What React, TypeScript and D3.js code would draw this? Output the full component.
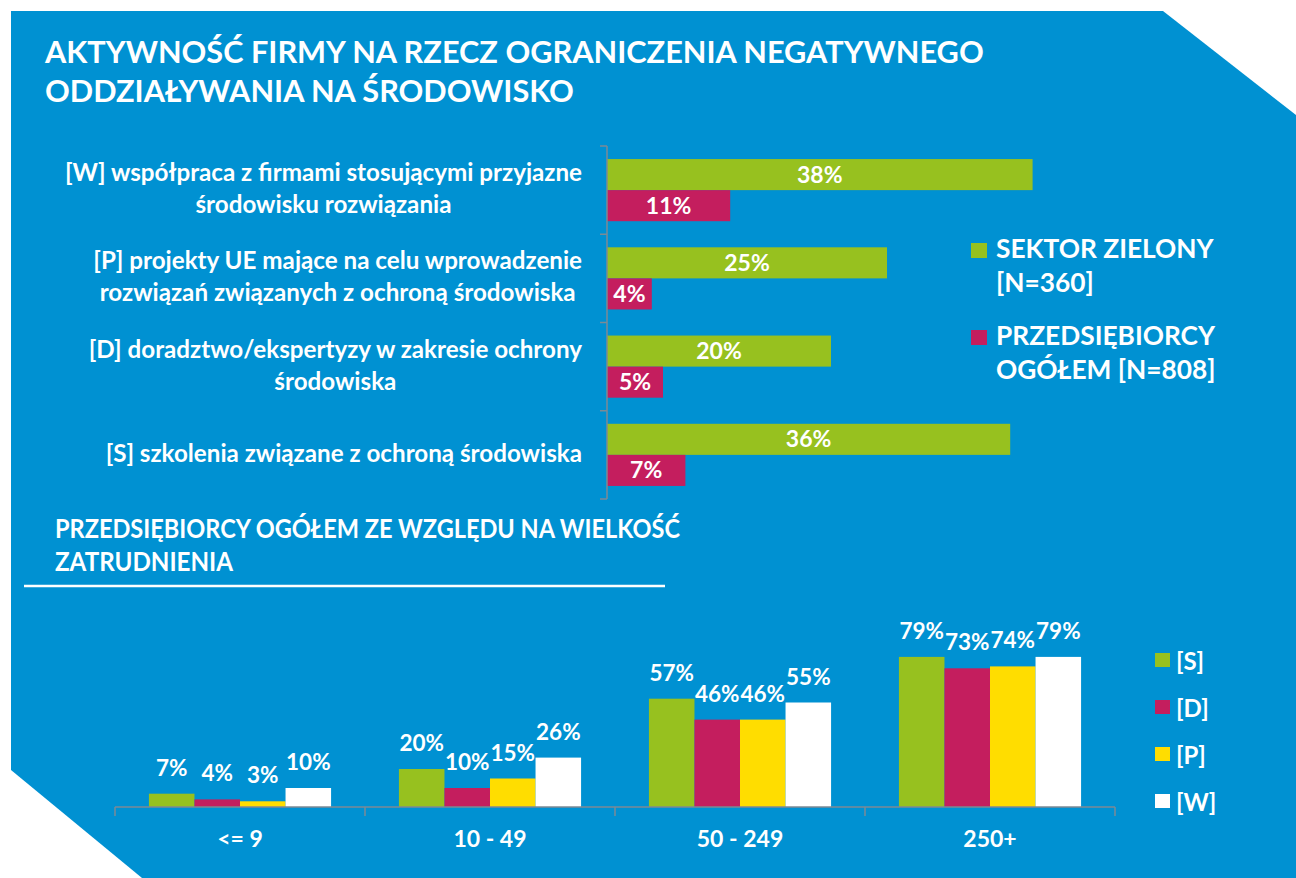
import React, { useRef, useEffect } from 'react';
import * as d3 from 'd3';

// top chart: activities, green sector vs all companies
const activityKeys = ['W', 'P', 'D', 'S'];
const activityLabels = [
  ['[W] współpraca z firmami stosującymi przyjazne', 'środowisku rozwiązania'],
  ['[P] projekty UE mające na celu wprowadzenie', 'rozwiązań związanych z ochroną środowiska'],
  ['[D] doradztwo/ekspertyzy w zakresie ochrony', 'środowiska'],
  ['[S] szkolenia związane z ochroną środowiska'],
];
const greenSector = [38, 25, 20, 36];
const allCompanies = [11, 4, 5, 7];
const topLegend = [
  ['SEKTOR ZIELONY', '[N=360]'],
  ['PRZEDSIĘBIORCY', 'OGÓŁEM [N=808]'],
];

// bottom chart: all companies by size of employment
const sizeClasses = ['<= 9', '10 - 49', '50 - 249', '250+'];
const seriesKeys = ['[S]', '[D]', '[P]', '[W]'];
const valuesS = [7, 20, 57, 79];
const valuesD = [4, 10, 46, 73];
const valuesP = [3, 15, 46, 74];
const valuesW = [10, 26, 55, 79];

const BLUE = '#0091d2';
const GREEN = '#97c11f';
const RED = '#c41e5e';
const YELLOW = '#ffdd00';
const AXIS = '#7d8a94';
const FONT = 'Lato, "Open Sans", sans-serif';

const App = () => {
  const ref = useRef<SVGSVGElement>(null);

  useEffect(() => {
    const svg = d3.select(ref.current);
    svg.selectAll('*').remove();

    // background shape with cut corners
    svg.append('polygon')
      .attr('points', '11,11 1163,11 1296,115 1296,878 142,878 11,770')
      .attr('fill', BLUE);

    // title
    const title = svg.append('g').attr('font-family', FONT).attr('font-weight', 700).attr('fill', '#fff');
    title.append('text').attr('x', 45).attr('y', 63).attr('font-size', 30.7)
      .text('AKTYWNOŚĆ FIRMY NA RZECZ OGRANICZENIA NEGATYWNEGO');
    title.append('text').attr('x', 45).attr('y', 102).attr('font-size', 30.7)
      .text('ODDZIAŁYWANIA NA ŚRODOWISKO');

    // ---------- top horizontal bars ----------
    const x = d3.scaleLinear().domain([0, 40]).range([607, 1055]);
    const y0 = d3.scaleBand().domain(activityKeys).range([146, 499]);
    const y1 = d3.scaleBand().domain(['green', 'red']).range([0, y0.bandwidth()]).paddingOuter(0.42);

    const top = svg.append('g');
    activityKeys.forEach((k, i) => {
      const g = top.append('g').attr('transform', `translate(0,${y0(k)})`);
      [['green', greenSector[i], GREEN], ['red', allCompanies[i], RED]].forEach(([s, v, c]) => {
        g.append('rect')
          .attr('x', x(0))
          .attr('y', y1(s as string)!)
          .attr('width', x(v as number) - x(0))
          .attr('height', y1.bandwidth())
          .attr('fill', c as string);
        g.append('text')
          .attr('x', (x(0) + x(v as number)) / 2)
          .attr('y', y1(s as string)! + y1.bandwidth() / 2 + 8)
          .attr('text-anchor', 'middle')
          .attr('font-family', FONT).attr('font-weight', 700).attr('font-size', 23)
          .attr('fill', '#fff')
          .text(`${v}%`);
      });

      // category label: centred lines, block right aligned to the axis
      const lines = activityLabels[i];
      const lg = g.append('g').attr('font-family', FONT).attr('font-weight', 700).attr('font-size', 24.2).attr('fill', '#fff');
      const mid = y0.bandwidth() / 2;
      const texts = lines.map((t, j) => lg.append('text')
        .attr('y', mid + 7 + (j - (lines.length - 1) / 2) * 32)
        .attr('text-anchor', 'middle')
        .text(t));
      const maxW = d3.max(texts, t => (t.node() as SVGTextElement).getComputedTextLength()) || 0;
      texts.forEach(t => t.attr('x', 582 - maxW / 2));
    });

    // vertical axis with ticks between categories
    top.append('line')
      .attr('x1', 607).attr('x2', 607).attr('y1', 146).attr('y2', 499)
      .attr('stroke', AXIS).attr('stroke-width', 1.5);
    activityKeys.concat(['end']).forEach((k, i) => {
      const yy = i < activityKeys.length ? y0(k)! : y0.range()[1];
      top.append('line')
        .attr('x1', 600).attr('x2', 607).attr('y1', yy).attr('y2', yy)
        .attr('stroke', AXIS).attr('stroke-width', 1.5);
    });

    // top legend
    [GREEN, RED].forEach((c, i) => {
      const ly = 243 + i * 87;
      svg.append('rect').attr('x', 971).attr('y', ly).attr('width', 16).attr('height', 15).attr('fill', c);
      topLegend[i].forEach((t, j) => {
        svg.append('text')
          .attr('x', 996).attr('y', ly + 15 + j * 34)
          .attr('font-family', FONT).attr('font-weight', 700).attr('font-size', 26.3)
          .attr('fill', '#fff')
          .text(t);
      });
    });

    // ---------- bottom grouped bars ----------
    const sub = svg.append('g').attr('font-family', FONT).attr('font-weight', 700).attr('fill', '#fff').attr('font-size', 26);
    sub.append('text').attr('x', 55).attr('y', 538)
      .attr('textLength', 625).attr('lengthAdjust', 'spacingAndGlyphs')
      .text('PRZEDSIĘBIORCY OGÓŁEM ZE WZGLĘDU NA WIELKOŚĆ');
    sub.append('text').attr('x', 55).attr('y', 571)
      .attr('textLength', 178).attr('lengthAdjust', 'spacingAndGlyphs')
      .text('ZATRUDNIENIA');
    svg.append('line')
      .attr('x1', 24).attr('x2', 665).attr('y1', 586).attr('y2', 586)
      .attr('stroke', '#fff').attr('stroke-width', 2.5);

    const series = [valuesS, valuesD, valuesP, valuesW];
    const colors = [GREEN, RED, YELLOW, '#ffffff'];
    const bx0 = d3.scaleBand().domain(sizeClasses).range([115, 1115]);
    const bx1 = d3.scaleBand().domain(seriesKeys).range([0, bx0.bandwidth()]).paddingOuter(0.745);
    const by = d3.scaleLinear().domain([0, 100]).range([807, 617]);

    const bottom = svg.append('g');
    sizeClasses.forEach((cat, ci) => {
      const g = bottom.append('g').attr('transform', `translate(${bx0(cat)},0)`);
      seriesKeys.forEach((s, si) => {
        const v = series[si][ci];
        g.append('rect')
          .attr('x', bx1(s)!)
          .attr('y', by(v))
          .attr('width', bx1.bandwidth())
          .attr('height', by(0) - by(v))
          .attr('fill', colors[si]);
        g.append('text')
          .attr('x', bx1(s)! + bx1.bandwidth() / 2)
          .attr('y', by(v) - 18)
          .attr('text-anchor', 'middle')
          .attr('font-family', FONT).attr('font-weight', 700).attr('font-size', 22.5)
          .attr('fill', '#fff')
          .text(`${v}%`);
      });
      g.append('text')
        .attr('x', bx0.bandwidth() / 2)
        .attr('y', 847)
        .attr('text-anchor', 'middle')
        .attr('font-family', FONT).attr('font-weight', 700).attr('font-size', 23)
        .attr('fill', '#fff')
        .text(cat);
    });

    // horizontal axis with ticks between categories
    bottom.append('line')
      .attr('x1', 115).attr('x2', 1115).attr('y1', 807).attr('y2', 807)
      .attr('stroke', AXIS).attr('stroke-width', 1.5);
    sizeClasses.concat(['end']).forEach((c, i) => {
      const xx = i < sizeClasses.length ? bx0(c)! : bx0.range()[1];
      bottom.append('line')
        .attr('x1', xx).attr('x2', xx).attr('y1', 807).attr('y2', 816)
        .attr('stroke', AXIS).attr('stroke-width', 1.5);
    });

    // bottom legend
    seriesKeys.forEach((s, i) => {
      const ly = 653 + i * 47;
      svg.append('rect').attr('x', 1155).attr('y', ly).attr('width', 15).attr('height', 14).attr('fill', colors[i]);
      svg.append('text')
        .attr('x', 1176).attr('y', ly + 17)
        .attr('font-family', FONT).attr('font-weight', 700).attr('font-size', 24)
        .attr('fill', '#fff')
        .text(s);
    });
  }, []);

  return (
    <svg
      ref={ref}
      width={1296}
      height={878}
      style={{ position: 'absolute', left: 0, top: 0, background: '#fff' }}
    />
  );
};

export default App;
